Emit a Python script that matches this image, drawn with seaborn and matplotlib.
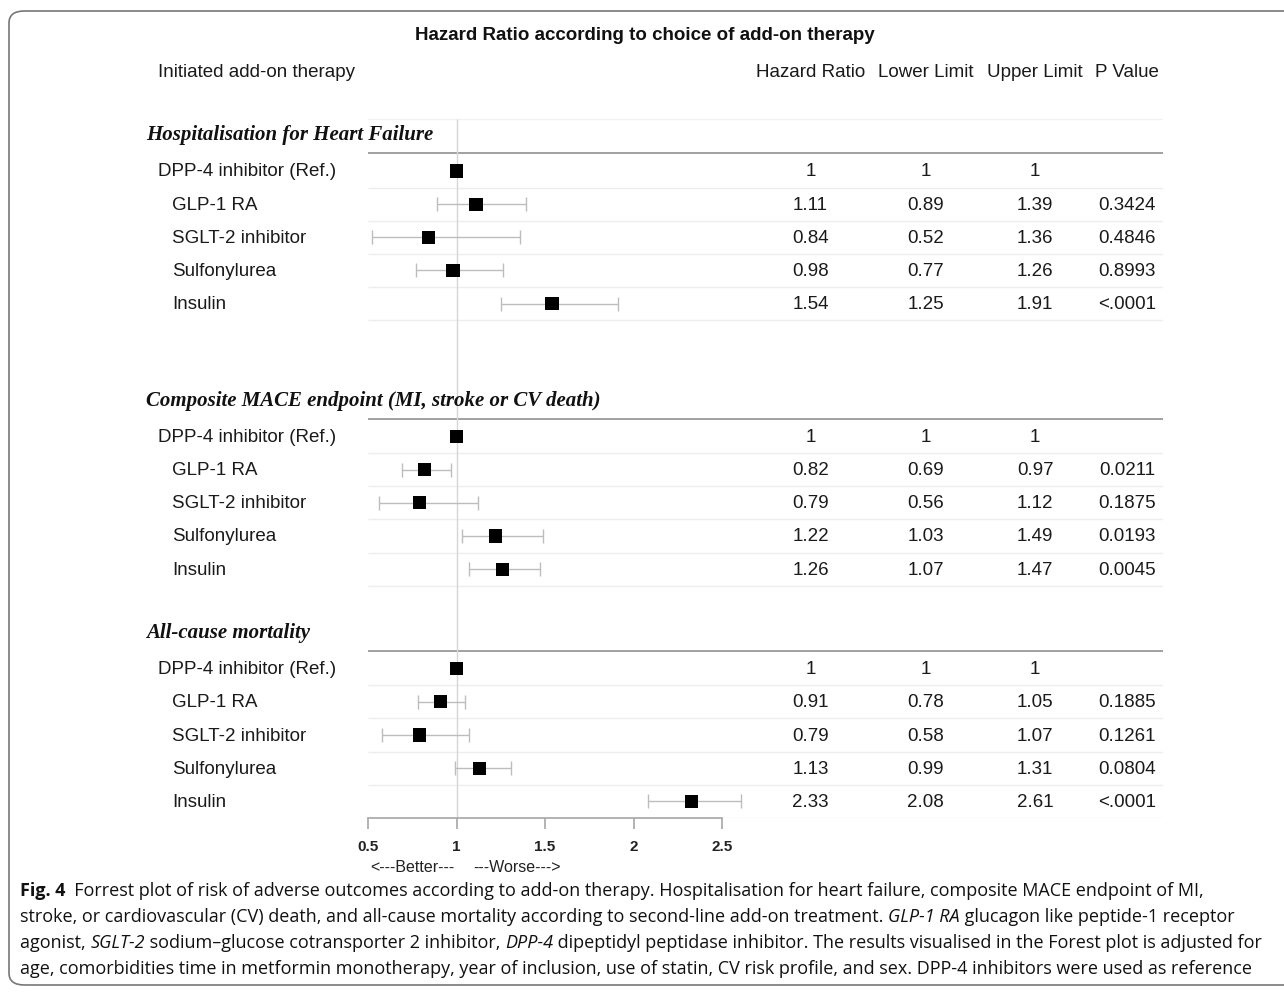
import numpy as np
import pandas as pd
import matplotlib
matplotlib.use('Agg')
import matplotlib.pyplot as plt
import seaborn as sns
from matplotlib.patches import FancyBboxPatch
from matplotlib.transforms import blended_transform_factory

sns.set_theme(style='white')
plt.rcParams['font.family'] = ['Liberation Sans', 'DejaVu Sans']

# Data
SECTIONS = ['Hospitalisation for Heart Failure',
            'Composite MACE endpoint (MI, stroke or CV death)',
            'All-cause mortality']
THERAPIES = ['DPP-4 inhibitor (Ref.)', 'GLP-1 RA', 'SGLT-2 inhibitor', 'Sulfonylurea', 'Insulin']

hr_hf = [1, 1.11, 0.84, 0.98, 1.54]
lo_hf = [1, 0.89, 0.52, 0.77, 1.25]
hi_hf = [1, 1.39, 1.36, 1.26, 1.91]
p_hf = ['', '0.3424', '0.4846', '0.8993', '<.0001']

hr_mace = [1, 0.82, 0.79, 1.22, 1.26]
lo_mace = [1, 0.69, 0.56, 1.03, 1.07]
hi_mace = [1, 0.97, 1.12, 1.49, 1.47]
p_mace = ['', '0.0211', '0.1875', '0.0193', '0.0045']

hr_mort = [1, 0.91, 0.79, 1.13, 2.33]
lo_mort = [1, 0.78, 0.58, 0.99, 2.08]
hi_mort = [1, 1.05, 1.07, 1.31, 2.61]
p_mort = ['', '0.1885', '0.1261', '0.0804', '<.0001']

x_ticks = [0.5, 1, 1.5, 2, 2.5]
x_ticklabels = ['0.5', '1', '1.5', '2', '2.5']

# first row index of each section (row gaps as in the original layout)
section_start = [0, 8, 15]

rows = []
for s, (name, hr, lo, hi, p) in enumerate(zip(SECTIONS, [hr_hf, hr_mace, hr_mort],
                                               [lo_hf, lo_mace, lo_mort],
                                               [hi_hf, hi_mace, hi_mort],
                                               [p_hf, p_mace, p_mort])):
    for i, t in enumerate(THERAPIES):
        rows.append({'section': name, 'therapy': t, 'row': section_start[s] + i,
                     'hr': hr[i], 'lo': lo[i], 'hi': hi[i], 'p': p[i]})
df = pd.DataFrame(rows)

W, H = 1284, 998
fig = plt.figure(figsize=(W / 100, H / 100), dpi=100)

# rounded frame around figure + caption
frame = FancyBboxPatch((9 / W, 1 - 985 / H), 1.05, (985 - 11) / H,
                       boxstyle='round,pad=0,rounding_size=0.012',
                       transform=fig.transFigure, fc='none', ec='#777777', lw=1.2)
fig.patches.append(frame)

ax_left, ax_right = 368 / W, 1163 / W
ax_top, ax_bot = 20 / H, 818 / H
ax = fig.add_axes([ax_left, 1 - ax_bot, ax_right - ax_left, ax_bot - ax_top])
px_per_unit = 177.0
xmax = 0.5 + (1163 - 368) / px_per_unit
row_px = 33.2
ymin_row = (20 - 171) / row_px
ax.set_xlim(0.5, xmax)
ax.set_ylim(19.5, ymin_row)

# gridlines
for s0 in section_start:
    ax.hlines(s0 - 0.53, 0.5, xmax, color='#9a9a9a', lw=1.3)
    for k in range(5):
        ax.hlines(s0 + k + 0.5, 0.5, xmax, color='#eeeeee', lw=1.0)
ax.hlines(-1.55, 0.5, xmax, color='#f2f2f2', lw=1.0)
ax.vlines(1, -1.55, 19.5, color='#d6d6d6', lw=1.0)

# confidence intervals + point estimates
ci = df[df['therapy'] != THERAPIES[0]]
ax.errorbar(ci['hr'], ci['row'], xerr=[ci['hr'] - ci['lo'], ci['hi'] - ci['hr']],
            fmt='none', ecolor='#bdbdbd', elinewidth=1.0, capsize=5, capthick=1.0)
sns.scatterplot(data=df, x='hr', y='row', marker='s', s=90, color='black',
                edgecolor='none', ax=ax, legend=False, zorder=5)

# axis styling
for sp in ['top', 'right', 'left']:
    ax.spines[sp].set_visible(False)
ax.spines['bottom'].set_bounds(0.5, 2.5)
ax.spines['bottom'].set_color('#aaaaaa')
ax.set_xticks(x_ticks)
ax.set_xticklabels(x_ticklabels, fontsize=11, fontweight='bold', color='#222222')
ax.tick_params(axis='x', bottom=True, length=8, color='#aaaaaa', pad=8)
ax.set_yticks([])
ax.set_xlabel('')
ax.set_ylabel('')

# columns
col_x = {'hr': 3.0, 'lo': 3.65, 'hi': 4.27, 'p': 4.79}
fig_x = blended_transform_factory(fig.transFigure, ax.transData)
fs = 13.5
for _, r in df.iterrows():
    lx = 158 if r['therapy'] == THERAPIES[0] else 172
    ax.text(lx / W, r['row'] + 0.03, r['therapy'], transform=fig_x, ha='left', va='center',
            fontsize=fs, color='#1a1a1a')
    if r['therapy'] == THERAPIES[0]:
        vals = ['1', '1', '1', '']
    else:
        vals = [f"{r['hr']:.2f}", f"{r['lo']:.2f}", f"{r['hi']:.2f}", r['p']]
    for key, v in zip(['hr', 'lo', 'hi', 'p'], vals):
        ax.text(col_x[key], r['row'] + 0.03, v, ha='center', va='center', fontsize=fs,
                color='#1a1a1a', clip_on=False)

for name, s0 in zip(SECTIONS, section_start):
    ax.text(146 / W, s0 - 1.07, name, transform=fig_x, ha='left', va='center',
            fontsize=15, fontweight='bold', fontstyle='italic',
            family=['Liberation Serif', 'DejaVu Serif'], color='#111111')

# headers
head_row = (73 - 171) / row_px
ax.text(158 / W, head_row, 'Initiated add-on therapy', transform=fig_x, ha='left',
        va='center', fontsize=fs, color='#1a1a1a')
for key, lab in zip(['hr', 'lo', 'hi', 'p'], ['Hazard Ratio', 'Lower Limit', 'Upper Limit', 'P Value']):
    ax.text(col_x[key], head_row, lab, ha='center', va='center', fontsize=fs, color='#1a1a1a')
fig.text(645 / W, 1 - 36 / H, 'Hazard Ratio according to choice of add-on therapy',
         ha='center', va='center', fontsize=13.5, fontweight='bold', color='#111111')

fig.text(370 / W, 1 - 868 / H, '<---Better---', ha='left', va='center',
         fontsize=11.5, color='#222222')
fig.text(473 / W, 1 - 868 / H, '---Worse--->', ha='left', va='center',
         fontsize=11.5, color='#222222')

# caption, written as runs of normal / italic / bold text
cap_font = ['Open Sans', 'DejaVu Sans']
cap_fs = 13
cap_lines = [
    [('Fig. 4', 'b'), ('  Forrest plot of risk of adverse outcomes according to add-on therapy. Hospitalisation for heart failure, composite MACE endpoint of MI,', 'n')],
    [('stroke, or cardiovascular (CV) death, and all-cause mortality according to second-line add-on treatment. ', 'n'), ('GLP-1 RA', 'i'), (' glucagon like peptide-1 receptor', 'n')],
    [('agonist, ', 'n'), ('SGLT-2', 'i'), (' sodium\u2013glucose cotransporter 2 inhibitor, ', 'n'), ('DPP-4', 'i'), (' dipeptidyl peptidase inhibitor. The results visualised in the Forest plot is adjusted for', 'n')],
    [('age, comorbidities time in metformin monotherapy, year of inclusion, use of statin, CV risk profile, and sex. DPP-4 inhibitors were used as reference', 'n')],
]
cap_y = [891, 917, 943, 969]
for runs, y in zip(cap_lines, cap_y):
    prev = None
    for txt, st in runs:
        kw = dict(fontsize=cap_fs, family=cap_font, color='#111111',
                  fontweight='bold' if st == 'b' else 'normal',
                  fontstyle='italic' if st == 'i' else 'normal')
        if prev is None:
            prev = fig.text(20 / W, 1 - y / H, txt, ha='left', va='center', **kw)
        else:
            prev = ax.annotate(txt, xy=(1, 0), xycoords=prev, ha='left', va='bottom',
                               annotation_clip=False, **kw)

fig.savefig('out.png', dpi=100)
